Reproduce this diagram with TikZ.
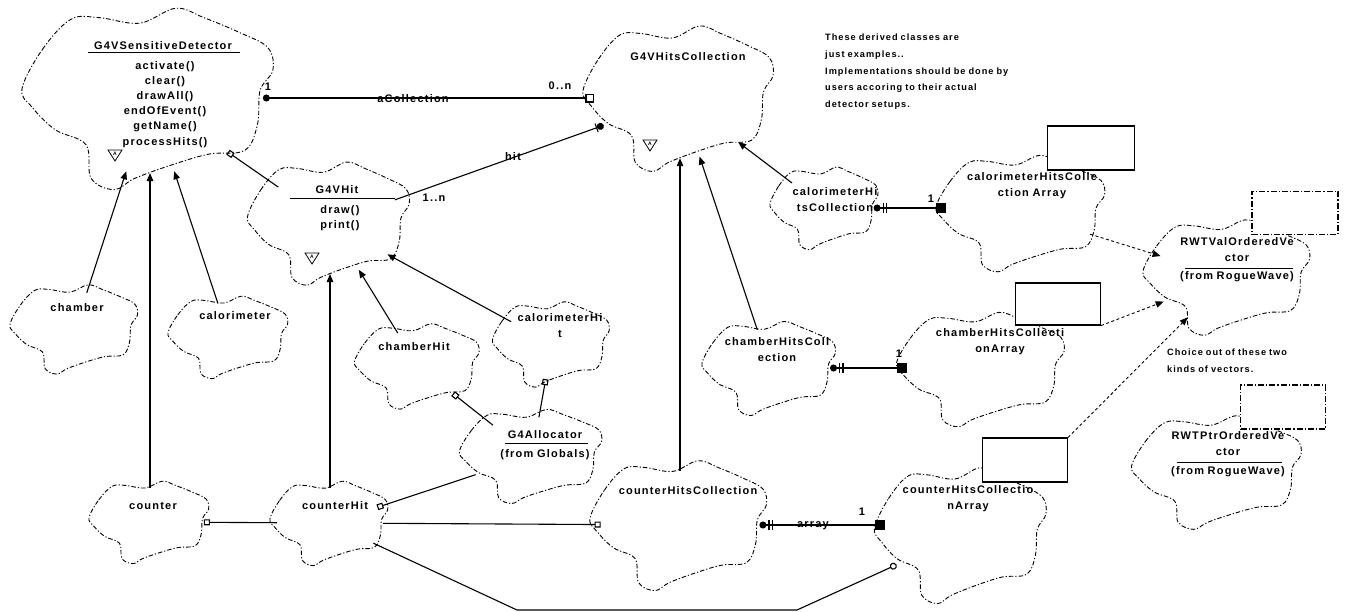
\documentclass[tikz,border=0pt]{standalone}
\usepackage{fontspec}
\setsansfont{Liberation Sans}[LetterSpace=11,WordSpace=0.85]
\usetikzlibrary{arrows.meta,shapes.geometric}
\tikzset{
  cloudline/.style={line width=0.9pt, dash pattern=on 4.5pt off 2pt on 1.2pt off 2pt},
  anc/.style={ellipse, inner sep=0pt, draw=none},
  conn/.style={line width=1.1pt},
  inh/.style={conn, -{Triangle[length=8pt,width=6.5pt]}},
  usesS/.style={conn, {Square[open,length=6pt,width=6pt]}-},
  usesE/.style={conn, -{Square[open,length=6pt,width=6pt]}},
  inst/.style={line width=0.9pt, dash pattern=on 3pt off 2.5pt, -{Triangle[length=8pt,width=6.5pt]}},
  hasA/.style={conn, {Circle[length=7pt] Bar[width=10pt,sep=2pt,line width=1.3pt] Bar[width=10pt,sep=2pt,line width=1.3pt]}-{Square[length=10pt,width=10pt]}},
  txt/.style={font={\sffamily\bfseries\fontsize{11}{16.5}\selectfont}, inner sep=0pt, align=center},
  mtxt/.style={font={\sffamily\bfseries\fontsize{11}{15.2}\selectfont}, inner sep=0pt, align=center},
  notetxt/.style={font={\sffamily\bfseries\fontsize{9.2}{16.7}\selectfont}, inner sep=0pt, align=left},
  pbox/.style={draw, line width=1.1pt, fill=white},
  pboxd/.style={draw, line width=1.1pt, fill=white, dash pattern=on 6pt off 2pt on 1.2pt off 2pt},
  sep/.style={line width=0.9pt},
}
\newcommand{\bcloud}[5]{%
  \draw[cloudline, shift={(#2,#3)}, xscale=#4, yscale=#5] plot[smooth cycle, tension=0.6] coordinates {
    (-0.50,-0.05) (-0.42,-0.26) (-0.31,-0.42) (-0.20,-0.43) (-0.04,-0.40) (0.10,-0.48)
    (0.21,-0.43) (0.35,-0.35) (0.46,-0.27) (0.48,-0.15) (0.43,-0.04) (0.42,0.14)
    (0.37,0.28) (0.23,0.30) (0.08,0.36) (-0.06,0.43) (-0.14,0.49) (-0.23,0.43)
    (-0.25,0.25) (-0.37,0.17) (-0.46,0.05)};
  \node[anc, minimum width=#4*0.88pt, minimum height=#5*0.80pt] (#1) at (#2,#3) {};
}
\newcommand{\abst}[3]{%
  \draw[line width=0.8pt] (#2-7,#3-5) -- (#2+7,#3-5) -- (#2,#3+6) -- cycle;
  \node[font={\sffamily\bfseries\fontsize{5}{5}\selectfont}, inner sep=0pt] (#1) at (#2,#3-1.5) {A};
}
\begin{document}
\begin{tikzpicture}[x=1pt,y=-1pt]
\fill[white] (0,0) rectangle (1345,611);
\useasboundingbox (0,0) rectangle (1345,611);

% clouds
\bcloud{sd}{150}{98}{256}{187}
\bcloud{hc}{680}{98}{194}{150}
\bcloud{hit}{330}{223}{165}{127}
\bcloud{chamber}{75}{329}{130}{92}
\bcloud{calor}{229}{337}{122}{85}
\bcloud{chHit}{418}{366}{127}{88}
\bcloud{caHit}{552}{344}{119}{88}
\bcloud{alloc}{532}{456}{145}{97}
\bcloud{counter}{150}{522}{122}{85}
\bcloud{ctHit}{330}{523}{120}{87}
\bcloud{ctHC}{680}{525}{180}{134}
\bcloud{ctHCA}{962}{535}{175}{140}
\bcloud{caHC}{825}{208}{110}{85}
\bcloud{caHCA}{1022}{213}{172}{120}
\bcloud{chHC}{770}{368}{136}{97}
\bcloud{chHCA}{982}{369}{171}{118}
\bcloud{rwtv}{1228}{277}{170}{119}
\bcloud{rwtp}{1218}{472}{173}{117}

% parameter boxes
\node[pbox, minimum width=87pt, minimum height=44pt] (caBox) at (1091,148) {};
\node[pbox, minimum width=85pt, minimum height=42pt] (chBox) at (1058,304) {};
\node[pbox, minimum width=85pt, minimum height=44pt] (ctBox) at (1025,460) {};
\node[pboxd, minimum width=86pt, minimum height=43pt] (rvBox) at (1295,213) {};
\node[pboxd, minimum width=85pt, minimum height=44pt] (rpBox) at (1283,407) {};

% inheritance
\draw[inh] (chamber) -- (sd);
\draw[inh] (counter) -- (sd);
\draw[inh] (calor) -- (sd);
\draw[inh] (ctHit) -- (hit);
\draw[inh] (chHit) -- (hit);
\draw[inh] (caHit) -- (hit);
\draw[inh] (ctHC) -- (hc);
\draw[inh] (chHC) -- (hc);
\draw[inh] (caHC) -- (hc);

% has
\draw[conn, {Circle[length=7pt]}-{Square[open,length=9pt,width=9pt]}] (sd) -- (hc);
\draw[conn, {Circle[length=7pt] Bar[width=9pt,sep=0pt]}-] (hc) -- (hit);
\draw[hasA] (caHC.east) -- (caHC.east -| caHCA.west);
\draw[hasA] (chHC.east) -- (chHC.east -| chHCA.west);
\draw[hasA] (ctHC.east) -- (ctHC.east -| ctHCA.west);

% using
\draw[usesS] (sd) -- (hit);
\draw[usesS] (caHit) -- (alloc);
\draw[usesS] (chHit) -- (alloc);
\draw[usesS] (ctHit) -- (alloc);
\draw[usesS] (counter) -- (ctHit);
\draw[usesE] (ctHit) -- (ctHC);
\coordinate (b1) at (517,610);
\coordinate (b2) at (797,610);
\draw[conn, -{Circle[open,length=7pt]}] (ctHit) -- (b1) -- (b2) -- (ctHCA);

% instantiation
\draw[inst] (caHCA) -- (rwtv);
\draw[inst] (chBox.south east) -- (rwtv);
\draw[inst] (ctBox.north east) -- (rwtv);

% abstract adornments
\abst{sdA}{115}{155}
\abst{hcA}{650}{145}
\abst{hitA}{312}{258}

% texts
\node[txt] (sdT) at (163,46) {G4VSensitiveDetector};
\draw[sep] (88,52) -- (240,52);
\node[mtxt, anchor=north] (sdM) at (165,61) {activate()\\clear()\\drawAll()\\endOfEvent()\\getName()\\processHits()};
\node[txt] (hcT) at (688,57) {G4VHitsCollection};
\node[txt] (hitT) at (337,190) {G4VHit};
\draw[sep] (290,198) -- (395,198);
\node[mtxt, anchor=north] (hitM) at (340,205) {draw()\\print()};
\node[txt] (chamberT) at (77,308) {chamber};
\node[txt] (calorT) at (235,316) {calorimeter};
\node[txt] (chHitT) at (414,347) {chamberHit};
\node[txt, anchor=north] (caHitT) at (560,313) {calorimeterHi\\t};
\node[txt] (allocT) at (545,435) {G4Allocator};
\draw[sep] (505,443) -- (588,443);
\node[txt] (allocF) at (545,455) {(from Globals)};
\node[txt] (counterT) at (153,506) {counter};
\node[txt] (ctHitT) at (335,506) {counterHit};
\node[txt] (ctHCT) at (688,491) {counterHitsCollection};
\node[txt, anchor=north] (ctHCAT) at (968,485) {counterHitsCollectio\\nArray};
\node[txt, anchor=north] (caHCT) at (835,187) {calorimeterHi\\tsCollection};
\node[txt, anchor=north] (caHCAT) at (1032,172) {calorimeterHitsColle\\ction Array};
\node[txt, anchor=north] (chHCT) at (777,337) {chamberHitsColl\\ection};
\node[txt, anchor=north] (chHCAT) at (1000,328) {chamberHitsCollecti\\onArray};
\node[txt, anchor=north] (rwtvT) at (1237,237) {RWTValOrderedVe\\ctor};
\draw[sep] (1185,268) -- (1293,268);
\node[txt] (rwtvF) at (1237,277) {(from RogueWave)};
\node[txt, anchor=north] (rwtpT) at (1228,431) {RWTPtrOrderedVe\\ctor};
\draw[sep] (1177,462) -- (1282,462);
\node[txt] (rwtpF) at (1228,472) {(from RogueWave)};

% relation labels
\node[txt] (lAc) at (413,99) {aCollection};
\node[txt] (l0n) at (560,86) {0..n};
\node[txt] (l1s) at (268,87) {1};
\node[txt] (lhit) at (513,157) {hit};
\node[txt] (l1n) at (434,198) {1..n};
\node[txt] (larr) at (813,526) {array};
\node[txt] (l1a) at (862,512) {1};
\node[txt] (l1b) at (899,354) {1};
\node[txt] (l1c) at (931,199) {1};

% notes
\node[notetxt, anchor=north west] (note1) at (825,34) {These derived classes are\\just examples..\\Implementations should be done by\\users accoring to their actual\\detector setups.};
\node[notetxt, anchor=north west] (note2) at (1167,349) {Choice out of these two\\kinds of vectors.};
\end{tikzpicture}
\end{document}
